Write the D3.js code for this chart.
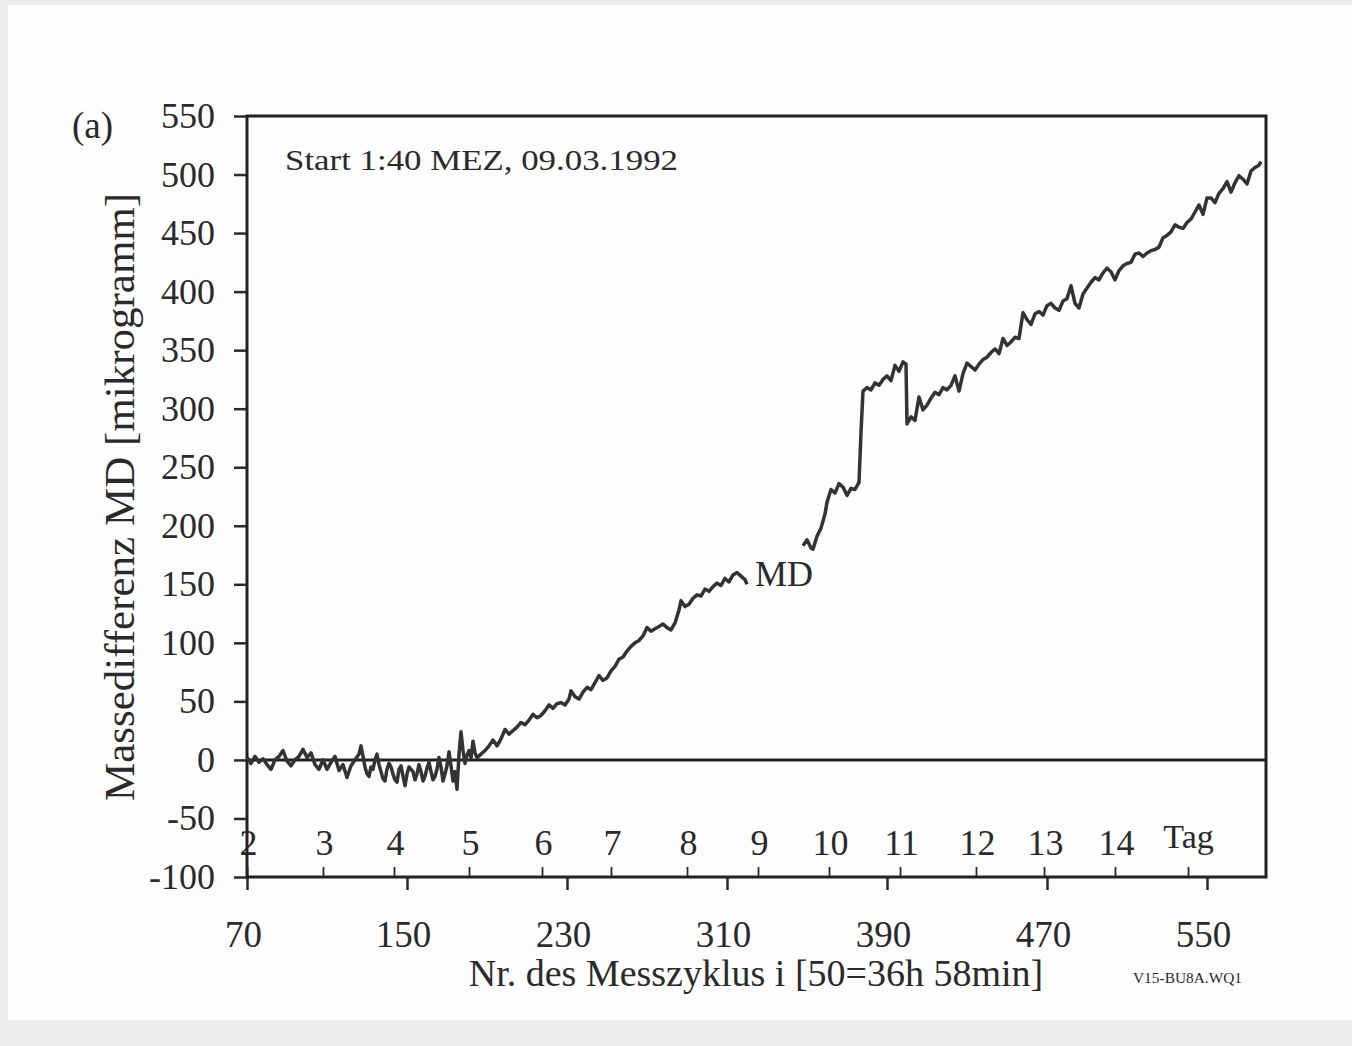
<!DOCTYPE html>
<html lang="de">
<head>
<meta charset="UTF-8">
<title>Massedifferenz MD</title>
<script src="https://d3js.org/d3.v7.min.js"></script>
<style>
  html, body { margin: 0; padding: 0; background: #ececec; }
  svg { display: block; }
  text { font-family: "Liberation Serif", "DejaVu Serif", serif; fill: #2a2a2a; }
  .axis path { display: none; }
  .axis line { stroke: #2a2a2a; stroke-width: 2.5px; }
  .series { fill: none; stroke: #333; stroke-width: 3.5px; stroke-linejoin: round; }
</style>
</head>
<body>
<svg id="chart" width="1352" height="1046"></svg>
<script>
const segmentBefore = [
  [70,2],[72,-3],[74,3],[76,-2],[78,1],[80,-4],[82,-8],[84,0],[86,3],[88,8],
  [90,-1],[92,-5],[94,0],[96,3],[98,9],[100,2],[102,6],[104,-4],[106,-8],[108,0],
  [110,-8],[112,-2],[114,3],[116,-9],[118,-4],[120,-15],[122,-5],[124,0],[126,5],[127,12],
  [129,-6],[130,-12],[131,-14],[132,-6],[133,-8],[134,0],[135,5],[136,-4],[137,-10],[138,-16],
  [139,-18],[140,-8],[141,-3],[142,-6],[143,-12],[144,-17],[145,-19],[146,-8],[147,-5],[148,-14],
  [149,-22],[150,-12],[151,-6],[152,-8],[153,-10],[154,-17],[155,-12],[156,-4],[157,-10],[158,-18],
  [159,-14],[160,-7],[161,-2],[162,-10],[163,-17],[164,-14],[165,-8],[166,2],[167,-6],[168,-18],
  [169,-12],[170,-5],[171,7],[172,-5],[173,-18],[174,-10],[175,-25],[176,5],[177,24],[178,8],
  [179,-3],[180,4],[181,8],[182,2],[183,16],[184,6],
  [185,2],[187,5],[189,8],[191,12],[193,17],[195,12],[197,18],[199,26],[201,22],[203,25],
  [205,28],[207,32],[209,30],[211,34],[213,39],[215,36],[217,38],[219,42],[221,47],[223,44],
  [225,48],[227,49],[229,47],[231,52],[232,59],[234,54],[236,52],[238,58],[240,62],[242,60],
  [244,66],[246,72],[248,68],[250,70],[252,76],[254,80],[256,86],[258,88],[260,93],[262,97],
  [264,100],[266,102],[268,106],[270,113],[272,110],[274,112],[276,114],[278,116],[280,113],[282,111],
  [284,117],[286,128],[287,136],[289,131],[291,133],[293,138],[295,141],[297,140],[299,146],[301,144],
  [303,148],[305,151],[307,149],[309,155],[311,152],[313,158],[315,160],[317,157],[319,154],[320,150]
];

const segmentAfter = [
  [348,183],[350,188],[352,181],[353,180],[355,191],[357,198],[359,210],[360,220],[362,231],[364,228],
  [366,236],[368,233],[370,226],[372,232],[374,231],[376,237],[377,280],[378,315],[380,318],[382,316],
  [384,322],[386,320],[388,325],[390,328],[392,324],[394,337],[396,332],[398,340],[399.5,338],[400,287],
  [402,293],[404,290],[406,310],[408,299],[410,303],[412,309],[414,314],[416,312],[418,318],[420,316],
  [422,320],[424,328],[426,315],[428,330],[430,339],[432,336],[434,333],[436,338],[438,342],[440,344],
  [442,348],[444,351],[446,347],[448,360],[450,354],[452,357],[454,361],[456,360],[458,382],[460,376],
  [462,372],[464,381],[466,383],[468,380],[470,388],[472,390],[474,386],[476,384],[478,392],[480,394],
  [482,405],[484,390],[486,386],[488,398],[490,403],[492,408],[494,412],[496,410],[498,416],[500,420],
  [502,417],[504,410],[506,418],[508,422],[510,424],[512,425],[514,432],[516,433],[518,430],[520,433],
  [522,435],[524,436],[526,438],[528,446],[530,448],[532,451],[534,457],[536,455],[538,454],[540,459],
  [542,462],[544,468],[546,474],[548,466],[550,480],[552,480],[554,476],[556,484],[558,488],[560,494],
  [562,485],[564,493],[566,499],[568,496],[570,492],[572,503],[574,506],[576,508],[577,511]
];

const yTicks = [-100, -50, 0, 50, 100, 150, 200, 250, 300, 350, 400, 450, 500, 550];
const xTicks = [70, 150, 230, 310, 390, 470, 550];
// day marks (Tag) on the cycle axis
const dayLabels = ["2", "3", "4", "5", "6", "7", "8", "9", "10", "11", "12", "13", "14"];
const dayCycles = [70, 108, 143.5, 181, 217.5, 252, 290, 325.5, 361, 396.5, 434.5, 468.5, 504];
const tagCycle = 540.5;

const svg = d3.select("#chart");

// page
svg.append("rect").attr("x", 8).attr("y", 5).attr("width", 1344).attr("height", 1015).attr("fill", "#fdfdfd");

const plotLeft = 247, plotRight = 1266, plotTop = 116, plotBottom = 877;
const x = d3.scaleLinear().domain([70, 579.5]).range([plotLeft, plotRight]);
const y = d3.scaleLinear().domain([-100, 550]).range([plotBottom, plotTop]);

// y axis
const yAxis = svg.append("g").attr("class", "axis").attr("transform", `translate(${plotLeft},0)`)
  .call(d3.axisLeft(y).tickValues(yTicks).tickSize(13).tickPadding(19).tickFormat(d => String(d)));
yAxis.selectAll("text").style("font-size", "36px").attr("fill", "#2a2a2a");

// bottom axis: cycle numbers
const xAxis = svg.append("g").attr("class", "axis").attr("transform", `translate(0,${plotBottom})`)
  .call(d3.axisBottom(x).tickValues(xTicks).tickSize(13).tickFormat(d => String(d)));
xAxis.selectAll("text").style("font-size", "37px").attr("y", 70).attr("dy", 0).attr("dx", -4).attr("fill", "#2a2a2a");

// day ticks pointing inward
const dayAxis = svg.append("g").attr("class", "axis").attr("transform", `translate(0,${plotBottom})`)
  .call(d3.axisTop(x).tickValues(dayCycles).tickSize(10).tickFormat((d, i) => dayLabels[i]));
dayAxis.selectAll("text").style("font-size", "36px").attr("y", -22).attr("dy", 0).attr("dx", 1).attr("fill", "#2a2a2a");
dayAxis.selectAll("line").style("stroke-width", "1.8px");

const tagAxis = svg.append("g").attr("class", "axis").attr("transform", `translate(0,${plotBottom})`)
  .call(d3.axisTop(x).tickValues([tagCycle]).tickSize(10).tickFormat(() => "Tag"));
tagAxis.selectAll("text").style("font-size", "34px").attr("y", -29).attr("dy", 0).attr("fill", "#2a2a2a");
tagAxis.selectAll("line").style("stroke-width", "1.8px");

// frame
svg.append("rect").attr("x", plotLeft).attr("y", plotTop).attr("width", plotRight - plotLeft).attr("height", plotBottom - plotTop)
  .attr("fill", "none").attr("stroke", "#222").attr("stroke-width", 3);

// zero line
svg.append("line").attr("x1", plotLeft).attr("x2", plotRight).attr("y1", y(0)).attr("y2", y(0))
  .attr("stroke", "#222").attr("stroke-width", 3);

// series
const line = d3.line().x(d => x(d[0])).y(d => y(d[1]));
svg.append("path").datum(segmentBefore).attr("class", "series").attr("d", line);
svg.append("path").datum(segmentAfter).attr("class", "series").attr("d", line);

// texts
svg.append("text").attr("x", 72).attr("y", 138).style("font-size", "37px").text("(a)");
svg.append("text").attr("x", 285).attr("y", 170).style("font-size", "30px")
  .attr("textLength", 393).attr("lengthAdjust", "spacingAndGlyphs").text("Start 1:40 MEZ, 09.03.1992");
svg.append("text").attr("x", 755).attr("y", 586).style("font-size", "36px").text("MD");

svg.append("text").attr("transform", "translate(134,497) rotate(-90)").attr("text-anchor", "middle")
  .style("font-size", "43px").text("Massedifferenz MD [mikrogramm]");
svg.append("text").attr("x", 756).attr("y", 986).attr("text-anchor", "middle")
  .style("font-size", "38px").text("Nr. des Messzyklus i [50=36h 58min]");
svg.append("text").attr("x", 1133).attr("y", 983).style("font-size", "14px")
  .attr("textLength", 109).attr("lengthAdjust", "spacingAndGlyphs").text("V15-BU8A.WQ1");
</script>
</body>
</html>
